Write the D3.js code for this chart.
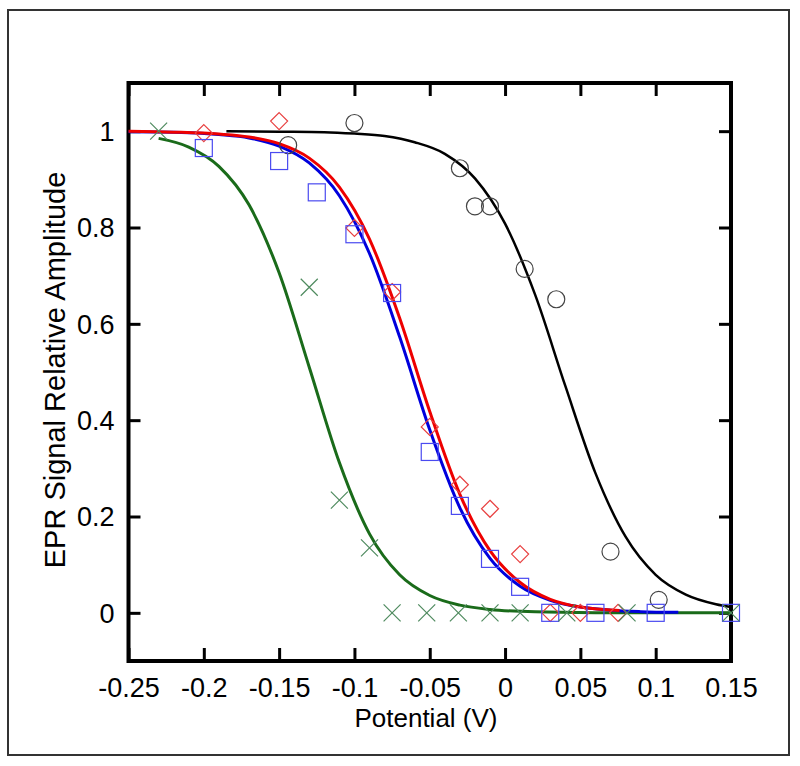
<!DOCTYPE html>
<html><head><meta charset="utf-8">
<script src="https://cdn.jsdelivr.net/npm/d3@7"></script>
<style>
body{margin:0;background:#fff;}
text{font-family:"Liberation Sans",Arial,Helvetica,sans-serif;fill:#000;}
</style>
</head><body>
<svg id="chart" width="800" height="766"></svg>
<script>
// ---- Data ----
const xTickValues = [-0.25, -0.2, -0.15, -0.1, -0.05, 0, 0.05, 0.1, 0.15];
const xTickLabels = ["-0.25", "-0.2", "-0.15", "-0.1", "-0.05", "0", "0.05", "0.1", "0.15"];
const yTickValues = [0, 0.2, 0.4, 0.6, 0.8, 1];
const yTickLabels = ["0", "0.2", "0.4", "0.6", "0.8", "1"];

// black circles
const circlePts = [[-0.144,0.971],[-0.1,1.017],[-0.03,0.923],[-0.02,0.844],[-0.01,0.844],
  [0.013,0.714],[0.034,0.651],[0.07,0.127],[0.102,0.027]];
// red diamonds
const diamondPts = [[-0.2,0.996],[-0.15,1.021],[-0.1,0.799],[-0.075,0.666],[-0.05,0.386],
  [-0.03,0.266],[-0.01,0.216],[0.01,0.122],[0.03,0],[0.05,0],[0.075,0]];
// blue squares
const squarePts = [[-0.2,0.965],[-0.15,0.938],[-0.125,0.873],[-0.1,0.786],[-0.075,0.664],
  [-0.05,0.334],[-0.03,0.222],[-0.01,0.112],[0.01,0.054],[0.03,0],[0.06,0],[0.1,0],[0.15,0]];
// green crosses
const crossPts = [[-0.23,1.0],[-0.13,0.676],[-0.11,0.234],[-0.09,0.135],[-0.075,0],[-0.052,0],
  [-0.031,0],[-0.01,0],[0.01,0],[0.041,0],[0.081,0],[0.15,0]];

// fitted curves
const blackCurve = [[-0.185,1.0],[-0.15,0.999],[-0.12,0.998],[-0.1,0.995],[-0.08,0.99],[-0.06,0.977],
  [-0.04,0.953],[-0.02,0.902],[0,0.808],[0.02,0.66],[0.04,0.471],[0.06,0.29],[0.08,0.158],
  [0.1,0.079],[0.12,0.038],[0.14,0.018],[0.15,0.012]];
const redCurve = [[-0.25,1.0],[-0.22,0.998],[-0.19,0.994],[-0.17,0.988],[-0.15,0.974],[-0.13,0.944],
  [-0.11,0.884],[-0.09,0.776],[-0.07,0.612],[-0.05,0.418],[-0.03,0.246],[-0.01,0.129],
  [0.01,0.063],[0.03,0.028],[0.05,0.012],[0.076,0.005]];
const blueCurve = [[-0.25,0.999],[-0.22,0.998],[-0.19,0.993],[-0.17,0.986],[-0.15,0.969],[-0.13,0.934],
  [-0.11,0.866],[-0.09,0.746],[-0.07,0.573],[-0.05,0.38],[-0.03,0.218],[-0.01,0.113],
  [0.01,0.055],[0.03,0.026],[0.05,0.012],[0.07,0.0055],[0.09,0.0025],[0.115,0.001]];
const greenCurve = [[-0.23,0.985],[-0.21,0.967],[-0.19,0.927],[-0.17,0.847],[-0.15,0.706],[-0.13,0.51],
  [-0.11,0.312],[-0.09,0.164],[-0.07,0.079],[-0.05,0.036],[-0.03,0.016],[-0.01,0.007],
  [0.02,0.002],[0.06,0.0004],[0.1,0.0001],[0.15,0]];

// ---- Layout ----
const svg = d3.select("#chart");
const L = 128.5, R = 731, T = 83, B = 661;
const x = d3.scaleLinear().domain([-0.25, 0.15]).range([L, R]);
const y = d3.scaleLinear().domain([-0.1, 1.1]).range([B, T]);

// outer frame
svg.append("rect").attr("x", 8).attr("y", 10).attr("width", 781).attr("height", 745)
  .attr("fill", "none").attr("stroke", "#333").attr("stroke-width", 2);

// axes
function styleAxis(g){
  g.select(".domain").remove();
  g.selectAll(".tick line").attr("stroke", "#000").attr("stroke-width", 3);
  g.selectAll(".tick text").style("font-size", "27px").attr("fill", "#000");
}
svg.append("g").attr("transform", `translate(0,${B})`)
  .call(d3.axisBottom(x).tickValues(xTickValues).tickSize(-13).tickPadding(0)
    .tickFormat((d,i)=>xTickLabels[i]))
  .call(styleAxis)
  .call(g=>g.selectAll(".tick text").attr("y", 36).attr("dy", 0));
svg.append("g").attr("transform", `translate(0,${T})`)
  .call(d3.axisTop(x).tickValues(xTickValues).tickSize(-13).tickFormat(""))
  .call(styleAxis);
svg.append("g").attr("transform", `translate(${L},0)`)
  .call(d3.axisLeft(y).tickValues(yTickValues).tickSize(-12).tickPadding(0)
    .tickFormat((d,i)=>yTickLabels[i]))
  .call(styleAxis)
  .call(g=>g.selectAll(".tick text").attr("x", -14).attr("dy", "0.35em"));
svg.append("g").attr("transform", `translate(${R},0)`)
  .call(d3.axisRight(y).tickValues(yTickValues).tickSize(-12).tickFormat(""))
  .call(styleAxis);

svg.append("rect").attr("x", L).attr("y", T).attr("width", R - L).attr("height", B - T)
  .attr("fill", "none").attr("stroke", "#000").attr("stroke-width", 4);

// axis titles
svg.append("text").attr("x", 426).attr("y", 727).attr("text-anchor", "middle")
  .style("font-size", "26px").text("Potential (V)");
svg.append("text").attr("transform", "translate(65,370) rotate(-90)").attr("text-anchor", "middle")
  .style("font-size", "29px").text("EPR Signal Relative Amplitude");

// curves
const line = d3.line().x(d=>x(d[0])).y(d=>y(d[1])).curve(d3.curveMonotoneX);
const curves = [
  {data: blackCurve, color: "#000000", w: 2.5},
  {data: greenCurve, color: "#1a6b1a", w: 3},
  {data: blueCurve, color: "#0000dd", w: 3},
  {data: redCurve, color: "#ee0000", w: 3}
];
curves.forEach(c => svg.append("path").datum(c.data).attr("d", line)
  .attr("fill", "none").attr("stroke", c.color).attr("stroke-width", c.w));

// markers
const r = 8.5;
svg.append("g").selectAll("circle").data(circlePts).join("circle")
  .attr("cx", d=>x(d[0])).attr("cy", d=>y(d[1])).attr("r", r)
  .attr("fill", "none").attr("stroke", "#444").attr("stroke-width", 1.2);
svg.append("g").selectAll("path").data(diamondPts).join("path")
  .attr("d", d=>{const cx=x(d[0]), cy=y(d[1]); return `M${cx},${cy-r}L${cx+r},${cy}L${cx},${cy+r}L${cx-r},${cy}Z`;})
  .attr("fill", "none").attr("stroke", "#e84040").attr("stroke-width", 1.2);
svg.append("g").selectAll("rect").data(squarePts).join("rect")
  .attr("x", d=>x(d[0])-r).attr("y", d=>y(d[1])-r).attr("width", 2*r).attr("height", 2*r)
  .attr("fill", "none").attr("stroke", "#4a4af0").attr("stroke-width", 1.2);
svg.append("g").selectAll("path").data(crossPts).join("path")
  .attr("d", d=>{const cx=x(d[0]), cy=y(d[1]); return `M${cx-r},${cy-r}L${cx+r},${cy+r}M${cx+r},${cy-r}L${cx-r},${cy+r}`;})
  .attr("fill", "none").attr("stroke", "#4e8a5e").attr("stroke-width", 1.2);
</script>
</body></html>
